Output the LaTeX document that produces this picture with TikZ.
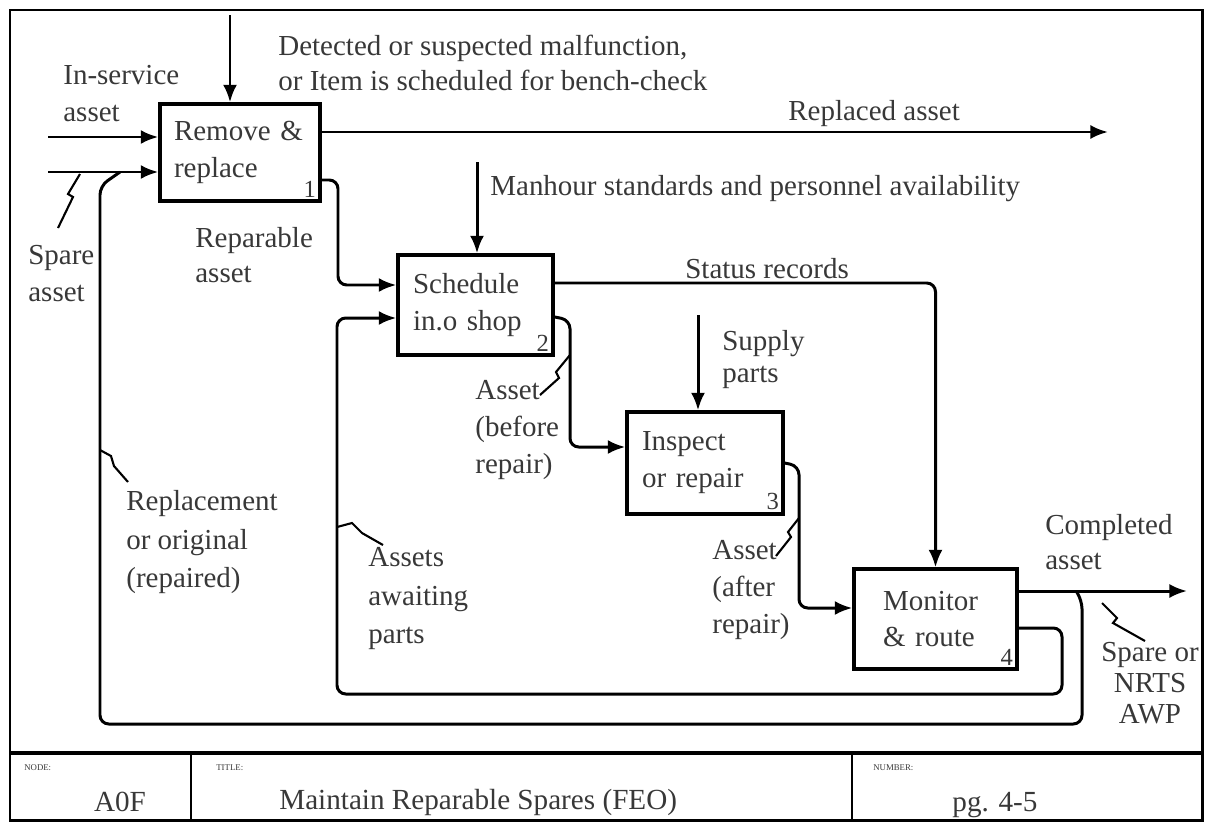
\documentclass[tikz,border=0pt]{standalone}
\usepackage{fontspec}
\setmainfont{Liberation Serif}
\usetikzlibrary{arrows.meta,calc}
\definecolor{ink}{HTML}{383838}

\begin{document}
\begin{tikzpicture}[x=0.02cm,y=-0.02cm,
  box/.style={draw,line width=1.9pt,rectangle,inner sep=0pt,align=left,
    font=\fontsize{16.5}{21}\selectfont,text=ink},
  lbl/.style={inner sep=0pt,align=left,anchor=north west,
    font=\fontsize{16.5}{21}\selectfont,text=ink},
  num/.style={inner sep=0pt,anchor=south east,font=\fontsize{14}{14}\selectfont,text=ink},
  flow/.style={line width=1.7pt,rounded corners=5pt,-{Latex[length=10pt,width=8pt]}},
  pipe/.style={line width=1.7pt,rounded corners=5pt},
  squig/.style={line width=1.2pt},
  tiny/.style={inner sep=0pt,anchor=north west,font=\fontsize{5}{6}\selectfont,text=ink},
  foot/.style={inner sep=0pt,font=\fontsize{16.6}{20}\selectfont,text=ink}
]
\useasboundingbox (0,0) rectangle (1206,825);

% frame and title block
\draw[line width=1.7pt] (10,10) rectangle (1202,820);
\draw[line width=1.9pt] (10,753) -- (1202,753);
\draw[line width=1.4pt] (191,753) -- (191,820);
\draw[line width=1.4pt] (852,753) -- (852,820);
\node[tiny] (tnode) at (24,764) {NODE:};
\node[tiny] (ttitle) at (216,764) {TITLE:};
\node[tiny] (tnum) at (873,764) {NUMBER:};
\node[foot] (fnode) at (120,802) {A0F};
\node[foot,anchor=west] (ftitle) at (279,802) {Maintain Reparable Spares (FEO)};
\node[foot] (fnum) at (995,805) {pg. 4-5};

% activity boxes
\node[box,minimum width=3.2cm,minimum height=1.94cm,text width=2.64cm] (b1) at (240,152.5) {Remove \&\\replace};
\node[box,minimum width=3.1cm,minimum height=2.0cm,text width=2.5cm] (b2) at (475.5,305) {Schedule\\in.o shop};
\node[box,minimum width=3.12cm,minimum height=2.04cm,text width=2.52cm] (b3) at (705,463) {Inspect\\or repair};
\node[box,minimum width=3.26cm,minimum height=2.0cm,text width=2.1cm] (b4) at (935.5,619) {Monitor\\\& route};
\node[num] (n1) at ([xshift=-3pt,yshift=3pt]b1.south east) {1};
\node[num] (n2) at ([xshift=-3pt,yshift=3pt]b2.south east) {2};
\node[num] (n3) at ([xshift=-3pt,yshift=3pt]b3.south east) {3};
\node[num] (n4) at ([xshift=-3pt,yshift=3pt]b4.south east) {4};

% free ends
\coordinate (c1) at (230,15);
\coordinate (i1) at (48,137);
\coordinate (i2) at (48,172);
\coordinate (o1) at (1108,132);
\coordinate (c2) at (477,162);
\coordinate (c3) at (698,315);
\coordinate (o4) at (1187,591);
\coordinate (jn) at (1076,591);
\coordinate (jm) at (120,172);

% controls
\draw[flow] (c1) -- (c1 |- b1.north);
\draw[flow] (c2) -- (c2 |- b2.north);
\draw[flow] (c3) -- (c3 |- b3.north);

% inputs and outputs
\draw[flow] (i1) -- (i1 -| b1.west);
\draw[flow] (i2) -- (i2 -| b1.west);
\draw[flow] (o1 -| b1.east) -- (o1);
\draw[flow] (b1.east |- 0,180) -- (338,180) -- (338,285) -- (b2.west |- 0,285);
\draw[flow] (b2.east |- 0,283) -- (b4.north |- 0,283) -- (b4.north);
\draw[flow] (b2.east |- 0,317) -- (570,320) -- (570,447) -- (b3.west |- 0,447);
\draw[flow] (b3.east |- 0,463) -- (799,466) -- (799,608) -- (b4.west |- 0,608);
\draw[flow] (o4 -| b4.east) -- (o4);
\draw[flow] (b4.east |- 0,628) -- (1062,628) -- (1062,694) -- (337,694) -- (337,318) -- (b2.west |- 0,318);
\draw[pipe] (jn) -- (1082,600) -- (1082,724) -- (100,724) -- (100,186) -- (jm);

% label leaders
\draw[squig] (80,174) -- (68,194) -- (73,197) -- (58,228);
\draw[squig] (100,450) -- (111,456) -- (114,466) -- (128,482);
\draw[squig] (337,527) -- (352,523) -- (362,533) -- (383,545);
\draw[squig] (570,355) -- (556,372) -- (559,378) -- (540,395);
\draw[squig] (799,518) -- (788,532) -- (791,537) -- (776,556);
\draw[squig] (1102,603) -- (1117,618) -- (1113,623) -- (1145,641);

% labels
\node[lbl] (l1) at (63,65) {In-service\\asset};
\node[lbl] (l2) at (28,245) {Spare\\asset};
\node[lbl,font=\fontsize{16.5}{20}\selectfont] (l3) at (278,35) {Detected or suspected malfunction,\\or Item is scheduled for bench-check};
\node[lbl] (l4) at (788,100) {Replaced asset};
\node[lbl,font=\fontsize{16.5}{20}\selectfont] (l5) at (195,227) {Reparable\\asset};
\node[lbl] (l6) at (490,175) {Manhour standards and personnel availability};
\node[lbl] (l7) at (685,258) {Status records};
\node[lbl,font=\fontsize{16.5}{18.5}\selectfont] (l8) at (722,330) {Supply\\parts};
\node[lbl] (l9) at (475,380) {Asset\\(before\\repair)};
\node[lbl,font=\fontsize{16.5}{22}\selectfont] (l10) at (126,490) {Replacement\\or original\\(repaired)};
\node[lbl,font=\fontsize{16.5}{22}\selectfont] (l11) at (368,547) {Assets\\awaiting\\parts};
\node[lbl] (l12) at (712,540) {Asset\\(after\\repair)};
\node[lbl,font=\fontsize{16.5}{20}\selectfont] (l13) at (1045,514) {Completed\\asset};
\node[lbl,anchor=north,align=center,font=\fontsize{16.5}{17.5}\selectfont] (l14) at (1150,642) {Spare or\\NRTS\\AWP};
\end{tikzpicture}
\end{document}
